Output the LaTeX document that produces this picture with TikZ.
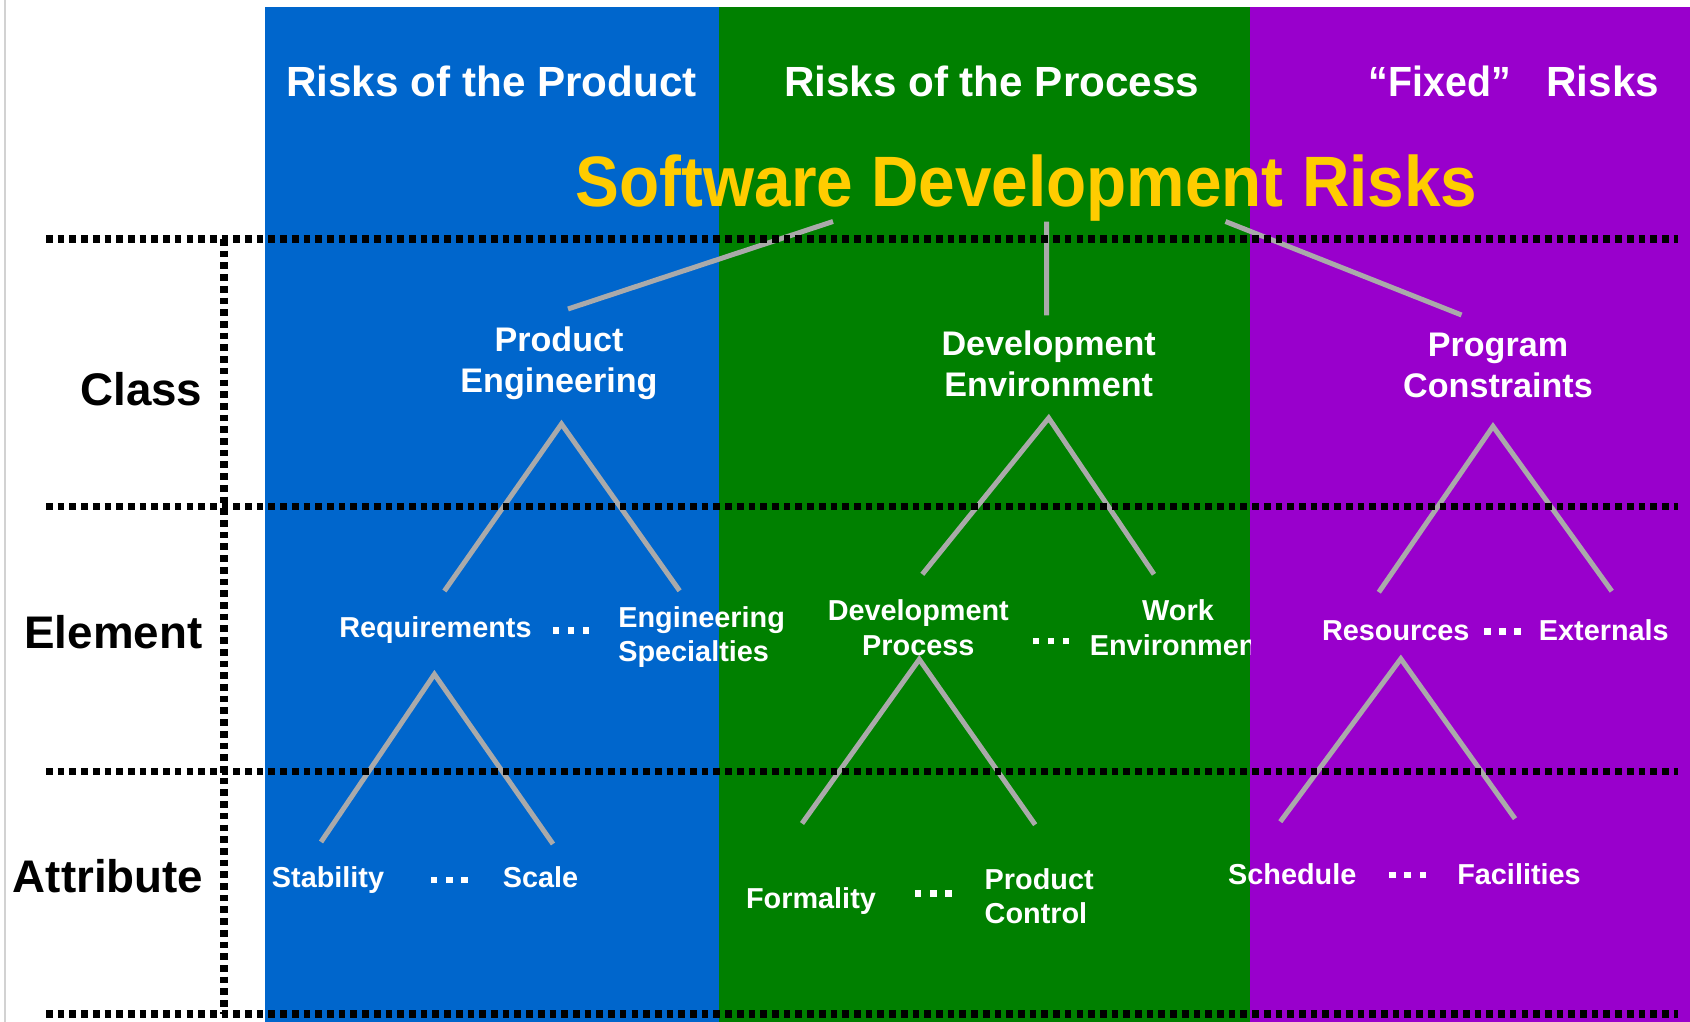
\documentclass[tikz,border=0pt]{standalone}
\usepackage{fontspec}
\setmainfont{Liberation Sans}
\usepackage{tikz}
\usetikzlibrary{calc}
\definecolor{prodblue}{RGB}{0,102,204}
\definecolor{procgreen}{RGB}{0,128,0}
\definecolor{fixpurple}{RGB}{153,0,204}
\definecolor{titleyellow}{RGB}{255,204,0}
\definecolor{stemgray}{RGB}{170,170,170}
\newcommand{\sqdots}{\rule{1.8pt}{1.8pt}\hspace{2.5pt}\rule{1.8pt}{1.8pt}\hspace{2.5pt}\rule{1.8pt}{1.8pt}}

\begin{document}
\begin{tikzpicture}[x=0.01cm, y=-0.01cm,
  hdr/.style={text=white, font=\fontsize{12}{14}\selectfont\bfseries, inner sep=0, anchor=base},
  cls/.style={text=white, font=\fontsize{9.7}{11.7}\selectfont\bfseries, align=center, inner sep=0, anchor=north},
  itm/.style={text=white, font=\fontsize{8.2}{9.8}\selectfont\bfseries, inner sep=0, anchor=base},
  lvl/.style={font=\fontsize{13}{15}\selectfont\bfseries, inner sep=0, anchor=base east},
  more/.style={text=white, inner sep=0},
  stem/.style={draw=stemgray, line width=1.42pt},
  sep/.style={line width=2pt, dash pattern=on 1.9pt off 1.43pt}]
\useasboundingbox (0,0) rectangle (1690,1022);
\fill [white] (0,0) rectangle (1690,1022);
\draw [gray!35, line width=0.6pt] (5,0) -- (5,1022);
\fill [prodblue] (265,7.5) rectangle (719,1022);
\fill [procgreen] (719,7.5) rectangle (1250,1022);
\fill [fixpurple] (1250,7.5) rectangle (1690,1022);

\node [hdr] (hprod) at (491.5,96.5) {Risks of the Product};
\node [hdr] (hproc) at (991.6,96.5) {Risks of the Process};
\node [hdr] (hfix) at (1514,96.5) {\scalebox{0.93}[1]{“Fixed”}\hspace{0.85em}Risks};
\node [anchor=base, inner sep=0, text=titleyellow, font=\fontsize{20.3}{24}\selectfont\bfseries] (sdr) at (1026.6,207) {\scalebox{0.92}[1]{Software Development Risks}};

\node [cls] (pe) at (559,326) {Product\\Engineering};
\node [cls] (de) at (1048.7,330.4) {Development\\Environment};
\node [cls] (pc) at (1498,332) {Program\\Constraints};

\node [itm] (req) at (435.4,637.6) {Requirements};
\node [more] (m1) at (571,630.5) {\sqdots};
\node [itm, anchor=north west, align=left] (es) at (617.6,605.8) {Engineering\\Specialties};
\node [itm, anchor=north, align=center] (dp) at (918.3,599.3) {Development\\Process};
\node [more] (m2) at (1050.8,641.3) {\sqdots};
\begin{scope}
\clip (719,0) rectangle (1250,1022);
\node [itm, anchor=north, align=center] (we) at (1178,599.3) {Work\\Environment};
\end{scope}
\node [itm] (rs) at (1395.8,640.8) {Resources};
\node [more] (m3) at (1502.5,631.6) {\sqdots};
\node [itm] (ex) at (1603.8,640.8) {Externals};

\node [itm] (st) at (328,887.6) {Stability};
\node [more] (m4) at (449.4,880) {\sqdots};
\node [itm] (sc) at (540.5,887.6) {Scale};
\node [itm] (fo) at (811,908.1) {Formality};
\node [more] (m5) at (933.4,893.5) {\sqdots};
\node [itm, anchor=north west, align=left] (pr) at (984,867.7) {Product\\Control};
\node [itm] (sh) at (1292.3,884.3) {Schedule};
\node [more] (m6) at (1407.6,875) {\sqdots};
\node [itm] (fa) at (1519,884.3) {Facilities};

\node [lvl] (lcls) at (203,405.6) {Class};
\node [lvl] (lelm) at (203,648.2) {Element};
\node [lvl] (latt) at (204,892.9) {Attribute};

\draw [stem] ($(sdr.south)+(-193.6,-1)$) -- ($(pe.north)+(9,-17)$);
\draw [stem] ($(sdr.south)+(19.9,-1)$) -- ($(de.north)+(-2,-15)$);
\draw [stem] ($(sdr.south)+(198.9,-1)$) -- ($(pc.north)+(-36.5,-17)$);
\draw [stem] ($(req.north)+(9,-25)$) -- ($(pe.south)+(2.5,23.5)$) -- ($(es.north)+(-22,-15)$);
\draw [stem] ($(dp.north)+(4,-25)$) -- ($(de.south)+(0,20)$) -- ($(we.north)+(-24,-25)$);
\draw [stem] ($(rs.north)+(-17,-28)$) -- ($(pc.south)+(-5,28)$) -- ($(ex.north)+(8,-28)$);
\draw [stem] ($(st.north)+(-7,-24)$) -- ($(req.south)+(-1,30)$) -- ($(sc.north)+(12.5,-22)$);
\draw [stem] ($(fo.north)+(-9,-63)$) -- ($(dp.south)+(1,3)$) -- ($(pr.north)+(-4,-43)$);
\draw [stem] ($(sh.north)+(-12,-41)$) -- ($(rs.south)+(5,17)$) -- ($(fa.north)+(-4,-44)$);

\draw [sep] (46,239) -- (1678,239);
\draw [sep] (46,506.5) -- (1678,506.5);
\draw [sep] (46,771.7) -- (1678,771.7);
\draw [sep] (46,1014) -- (1678,1014);
\draw [sep] (224,239) -- (224,1014);
\end{tikzpicture}
\end{document}
